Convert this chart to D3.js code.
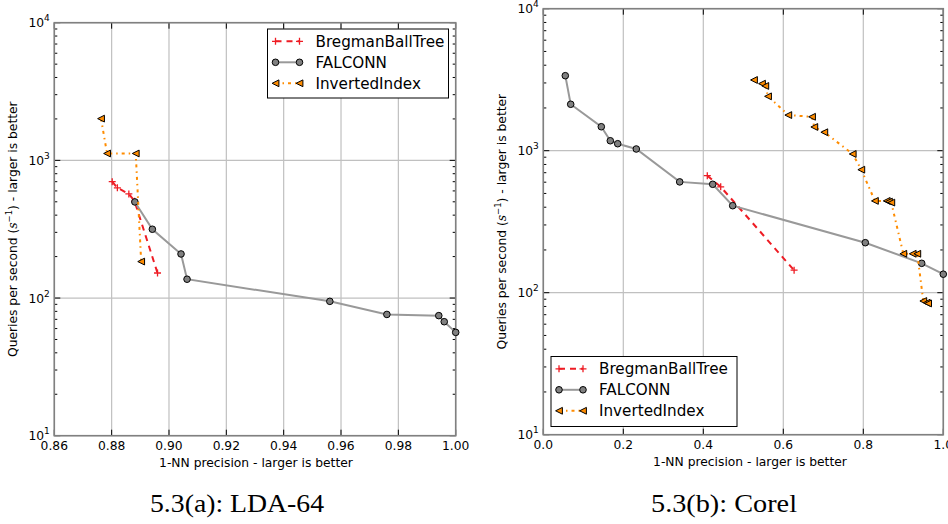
<!DOCTYPE html>
<html>
<head>
<meta charset="utf-8">
<script src="https://cdn.jsdelivr.net/npm/d3@7"></script>
<style>
body { margin: 0; background: #fff; }
text { font-family: "DejaVu Sans", sans-serif; fill: #000; }
</style>
</head>
<body>
<svg id="chart" width="948" height="524"></svg>
<script>
// ---- data ----
const seriesNames = ["BregmanBallTree", "FALCONN", "InvertedIndex"];

// (a) LDA-64 : [precision, queries per second]
const ldaBregman = [[0.8802, 700], [0.882, 632], [0.886, 570], [0.888, 505], [0.896, 152]];
const ldaFalconn = [[0.8881, 499], [0.8942, 316], [0.9042, 209], [0.9063, 137], [0.9561, 94.6],
  [0.976, 76], [0.9941, 74.5], [0.996, 67.3], [1.0, 56.3]];
const ldaInverted = [[0.8763, 2010], [0.8784, 1122], [0.8884, 1122], [0.8903, 184]];

// (b) Corel
const corelBregman = [[0.41, 667], [0.4435, 557], [0.627, 144]];
const corelFalconn = [[0.055, 3375], [0.0685, 2123], [0.145, 1475], [0.1675, 1175], [0.186, 1120],
  [0.2325, 1028], [0.341, 603], [0.4235, 580], [0.4735, 410], [0.805, 225], [0.946, 161], [1.0, 135]];
const corelInverted = [[0.5267, 3148], [0.5467, 2965], [0.555, 2857], [0.5618, 2414], [0.6125, 1782],
  [0.6718, 1733], [0.6775, 1469], [0.7025, 1349], [0.7735, 948], [0.795, 735], [0.829, 443],
  [0.8585, 443], [0.864, 438], [0.87, 431], [0.90, 188], [0.9235, 188], [0.935, 188],
  [0.95, 87.4], [0.9585, 85], [0.962, 84]];

const ldaXTicks = [0.86, 0.88, 0.90, 0.92, 0.94, 0.96, 0.98, 1.00];
const corelXTicks = [0.0, 0.2, 0.4, 0.6, 0.8, 1.0];
const yDecades = [10, 100, 1000, 10000];

const xLabel = "1-NN precision - larger is better";
const captions = ["5.3(a): LDA-64", "5.3(b): Corel"];

// ---- styles ----
const styles = {
  BregmanBallTree: { color: "#ee1c24", dash: "6,5", marker: "plus", width: 2 },
  FALCONN: { color: "#999999", dash: null, marker: "circle", width: 2 },
  InvertedIndex: { color: "#ff8c00", dash: "3,4,1.5,4", marker: "tri", width: 2 }
};

const svg = d3.select("#chart");

function drawMarker(g, kind, x, y) {
  if (kind === "circle") {
    g.append("circle").attr("cx", x).attr("cy", y).attr("r", 3.3)
      .attr("fill", "#808080").attr("stroke", "#000").attr("stroke-width", 1);
  } else if (kind === "tri") {
    const s = 3.4;
    g.append("path")
      .attr("d", `M${x - s},${y} L${x + s},${y - s} L${x + s},${y + s} Z`)
      .attr("fill", "#ff8c00").attr("stroke", "#000").attr("stroke-width", 1);
  } else {
    const s = 3.5;
    g.append("path")
      .attr("d", `M${x - s},${y} H${x + s} M${x},${y - s} V${y + s}`)
      .attr("stroke", "#ee1c24").attr("stroke-width", 1.3).attr("fill", "none");
  }
}

function drawPanel(cfg) {
  const { left, right, top, bottom } = cfg;
  const x = d3.scaleLinear().domain(cfg.xDomain).range([left, right]);
  const y = d3.scaleLog().domain([10, 10000]).range([bottom, top]);
  const g = svg.append("g");

  // grid
  g.append("g").selectAll("line").data(cfg.xTicks).join("line")
    .attr("x1", d => x(d)).attr("x2", d => x(d)).attr("y1", top).attr("y2", bottom)
    .attr("stroke", "#c0c0c0").attr("stroke-width", 1.2);
  g.append("g").selectAll("line").data(yDecades).join("line")
    .attr("x1", left).attr("x2", right).attr("y1", d => y(d)).attr("y2", d => y(d))
    .attr("stroke", "#c0c0c0").attr("stroke-width", 1.2);

  // ticks (inside, on all sides)
  const minor = [];
  yDecades.slice(0, 3).forEach(d => { for (let k = 2; k <= 9; k++) minor.push(d * k); });
  const tk = g.append("g").attr("stroke", "#000").attr("stroke-width", 1);
  cfg.xTicks.forEach(d => {
    tk.append("line").attr("x1", x(d)).attr("x2", x(d)).attr("y1", bottom).attr("y2", bottom - 6);
    tk.append("line").attr("x1", x(d)).attr("x2", x(d)).attr("y1", top).attr("y2", top + 6);
  });
  yDecades.forEach(d => {
    tk.append("line").attr("x1", left).attr("x2", left + 6).attr("y1", y(d)).attr("y2", y(d));
    tk.append("line").attr("x1", right).attr("x2", right - 6).attr("y1", y(d)).attr("y2", y(d));
  });
  minor.forEach(d => {
    tk.append("line").attr("x1", left).attr("x2", left + 3).attr("y1", y(d)).attr("y2", y(d));
    tk.append("line").attr("x1", right).attr("x2", right - 3).attr("y1", y(d)).attr("y2", y(d));
  });

  // spines
  g.append("rect").attr("x", left).attr("y", top)
    .attr("width", right - left).attr("height", bottom - top)
    .attr("fill", "none").attr("stroke", "#808080").attr("stroke-width", 1.6);

  // tick labels
  g.append("g").selectAll("text").data(cfg.xTicks).join("text")
    .attr("x", d => x(d)).attr("y", bottom + 14)
    .attr("text-anchor", "middle").attr("font-size", 12.3)
    .text(d => d3.format(cfg.xFormat)(d));
  const yl = g.append("g").selectAll("text").data(yDecades).join("text")
    .attr("x", left - 4.5).attr("y", d => y(d) + 4.5)
    .attr("text-anchor", "end").attr("font-size", 12.3);
  yl.append("tspan").text("10");
  yl.append("tspan").attr("dy", -6).attr("font-size", 9).text(d => Math.round(Math.log10(d)));

  // axis labels
  g.append("text").attr("x", cfg.xLabelX).attr("y", bottom + 31)
    .attr("text-anchor", "middle").attr("font-size", 12.3).text(xLabel);
  const ylab = g.append("text")
    .attr("transform", `translate(${cfg.yLabelX},${(top + bottom) / 2}) rotate(-90)`)
    .attr("text-anchor", "middle").attr("font-size", 12.3);
  ylab.append("tspan").text("Queries per second (");
  ylab.append("tspan").attr("font-family", "DejaVu Serif").attr("font-style", "italic").text("s");
  ylab.append("tspan").attr("dy", -5).attr("font-size", 8.5).text("\u22121");
  ylab.append("tspan").attr("dy", 5).text(") - larger is better");

  // series
  const line = d3.line().x(d => x(d[0])).y(d => y(d[1]));
  cfg.data.forEach((pts, i) => {
    const st = styles[seriesNames[i]];
    const sg = g.append("g");
    sg.append("path").datum(pts).attr("d", line)
      .attr("fill", "none").attr("stroke", st.color).attr("stroke-width", st.width)
      .attr("stroke-dasharray", st.dash);
    pts.forEach(p => drawMarker(sg, st.marker, x(p[0]), y(p[1])));
  });

  // legend
  const L = cfg.legend;
  const lg = g.append("g");
  lg.append("rect").attr("x", L.x).attr("y", L.y).attr("width", L.w).attr("height", L.h)
    .attr("fill", "#fff").attr("stroke", "#000").attr("stroke-width", 1);
  seriesNames.forEach((name, i) => {
    const st = styles[name];
    const ry = L.y + 12.3 + i * 21;
    const x1 = L.x + 8, x2 = L.x + 32;
    lg.append("line").attr("x1", x1).attr("x2", x2).attr("y1", ry).attr("y2", ry)
      .attr("stroke", st.color).attr("stroke-width", st.width).attr("stroke-dasharray", st.dash);
    drawMarker(lg, st.marker, x1, ry);
    drawMarker(lg, st.marker, x2, ry);
    lg.append("text").attr("x", L.x + 48).attr("y", ry + 5.5)
      .attr("font-size", 15.2).text(name);
  });

  // caption
  svg.append("text").attr("x", cfg.captionX).attr("y", 512)
    .attr("text-anchor", "middle").attr("font-size", 24.5)
    .attr("textLength", cfg.captionW).attr("lengthAdjust", "spacingAndGlyphs")
    .style("font-family", "'Liberation Serif', serif")
    .text(cfg.caption);
}

drawPanel({
  left: 54.3, right: 455.7, top: 22.7, bottom: 435.7,
  xDomain: [0.86, 1.0], xTicks: ldaXTicks, xFormat: ".2f",
  data: [ldaBregman, ldaFalconn, ldaInverted],
  xLabelX: 256, yLabelX: 17,
  legend: { x: 267.5, y: 29, w: 181, h: 69 },
  caption: captions[0], captionX: 237, captionW: 174
});

drawPanel({
  left: 543.3, right: 943.3, top: 8.7, bottom: 434.7,
  xDomain: [0.0, 1.0], xTicks: corelXTicks, xFormat: ".1f",
  data: [corelBregman, corelFalconn, corelInverted],
  xLabelX: 750, yLabelX: 506,
  legend: { x: 551, y: 356.5, w: 186, h: 70 },
  caption: captions[1], captionX: 724, captionW: 146
});
</script>
</body>
</html>
